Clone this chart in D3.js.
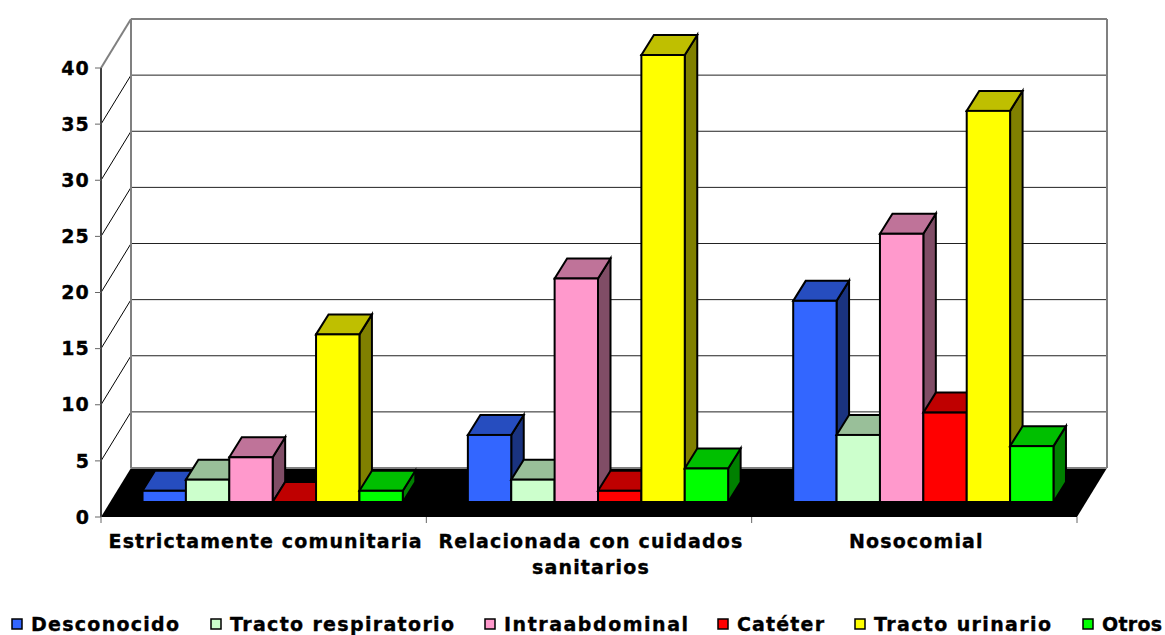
<!DOCTYPE html>
<html>
<head>
<meta charset="utf-8">
<script src="https://cdn.jsdelivr.net/npm/d3@7"></script>
<style>
html, body { margin: 0; padding: 0; background: #fff; }
svg { display: block; }
text { font-family: "DejaVu Sans", sans-serif; font-weight: bold; fill: #000; stroke: #000; stroke-width: 0.35px; }
</style>
</head>
<body>
<svg id="chart" width="1165" height="635"></svg>
<script>
// Infection source by acquisition type
const categories = ["Estrictamente comunitaria", "Relacionada con cuidados sanitarios", "Nosocomial"];
const seriesNames = ["Desconocido", "Tracto respiratorio", "Intraabdominal", "Catéter", "Tracto urinario", "Otros"];
const desconocido = [1, 6, 18];
const respiratorio = [2, 2, 6];
const intraabdominal = [4, 20, 24];
const cateter = [0, 1, 8];
const urinario = [15, 40, 35];
const otros = [1, 3, 5];
const seriesValues = [desconocido, respiratorio, intraabdominal, cateter, urinario, otros];
const yTicks = [0, 5, 10, 15, 20, 25, 30, 35, 40];
const seriesColors = ["#3366ff", "#ccffcc", "#ff99cc", "#ff0000", "#ffff00", "#00ff00"];

const svg = d3.select("#chart");

// Front plane of the 3D box, plus the offset to its back wall
const plot = { left: 101, right: 1077, bottom: 517, top: 68 };
const wall = { dx: 30, dy: -49 };
// Bars stand inside the box: offset of their front face and their own depth
const barFrontDx = 9;
const barDepth = { dx: 12.5, dy: -20 };
const fontSize = 19;
const tracking = 1.15;

const y = d3.scaleLinear().domain([0, 40]).range([plot.bottom, plot.top]);
const yBar = d3.scaleLinear().domain([0, 40]).range([502, 55]);
const x0 = d3.scaleBand().domain(d3.range(categories.length)).range([plot.left, plot.right]);
const x1 = d3.scaleBand().domain(d3.range(seriesNames.length)).range([0, x0.bandwidth()]).paddingOuter(0.75).paddingInner(0);

const poly = (pts) => pts.map(p => p.join(",")).join(" ");

// Floor of the box
const walls = svg.append("g");
walls.append("polygon")
  .attr("points", poly([
    [plot.left, plot.bottom],
    [plot.left + wall.dx, plot.bottom + wall.dy],
    [plot.right + wall.dx, plot.bottom + wall.dy],
    [plot.right, plot.bottom]
  ]))
  .attr("fill", "#000");

// Gridlines run along the side wall and across the back wall
yTicks.filter(t => t > 0).forEach(t => {
  const yy = y(t);
  const isEdge = t === 40;
  const stroke = isEdge ? "#808080" : "#000";
  walls.append("line")
    .attr("x1", plot.left).attr("y1", yy)
    .attr("x2", plot.left + wall.dx).attr("y2", yy + wall.dy)
    .attr("stroke", stroke).attr("stroke-width", isEdge ? 2 : 1);
  walls.append("line")
    .attr("x1", plot.left + wall.dx).attr("y1", yy + wall.dy)
    .attr("x2", plot.right + wall.dx).attr("y2", yy + wall.dy)
    .attr("stroke", isEdge ? "#808080" : "#222").attr("stroke-width", isEdge ? 2 : 1);
});
walls.append("line")
  .attr("x1", plot.left + wall.dx).attr("y1", y(0) + wall.dy)
  .attr("x2", plot.right + wall.dx).attr("y2", y(0) + wall.dy)
  .attr("stroke", "#808080").attr("stroke-width", 2);
[plot.left, plot.right].forEach(xx => {
  walls.append("line")
    .attr("x1", xx + wall.dx).attr("y1", y(0) + wall.dy)
    .attr("x2", xx + wall.dx).attr("y2", y(40) + wall.dy)
    .attr("stroke", "#808080").attr("stroke-width", 2);
});

// Value axis
const axisG = svg.append("g");
axisG.append("line")
  .attr("x1", plot.left).attr("y1", y(0))
  .attr("x2", plot.left).attr("y2", y(40))
  .attr("stroke", "#404040").attr("stroke-width", 2);
yTicks.forEach(t => {
  axisG.append("line")
    .attr("x1", plot.left - 6).attr("x2", plot.left).attr("y1", y(t)).attr("y2", y(t))
    .attr("stroke", "#666").attr("stroke-width", 1);
  axisG.append("text")
    .attr("x", plot.left - 11).attr("y", y(t)).attr("dy", "0.35em")
    .attr("text-anchor", "end").attr("font-size", fontSize).attr("letter-spacing", tracking)
    .text(t);
});

// Category axis
d3.range(categories.length + 1).forEach(i => {
  const xx = i < categories.length ? x0(i) : plot.right;
  axisG.append("line")
    .attr("x1", xx).attr("x2", xx).attr("y1", plot.bottom).attr("y2", plot.bottom + 6)
    .attr("stroke", "#666").attr("stroke-width", 1);
});

// Bars, drawn left to right so each one overlaps its neighbour's side face
const barLayer = svg.append("g");
categories.forEach((c, ci) => {
  seriesNames.forEach((s, si) => {
    const v = seriesValues[si][ci];
    const color = d3.color(seriesColors[si]);
    const shade = k => d3.rgb(color.r * k, color.g * k, color.b * k).formatHex();
    const xl = x0(ci) + x1(si) + barFrontDx;
    const xr = xl + x1.bandwidth();
    const yb = yBar(0);
    const yt = yBar(v);
    const d = barDepth;
    const g = barLayer.append("g")
      .attr("stroke", "#000").attr("stroke-width", 2).attr("stroke-linejoin", "miter");
    g.append("polygon")
      .attr("points", poly([[xr, yb], [xr + d.dx, yb + d.dy], [xr + d.dx, yt + d.dy], [xr, yt]]))
      .attr("fill", shade(0.5));
    g.append("polygon")
      .attr("points", poly([[xl, yt], [xl + d.dx, yt + d.dy], [xr + d.dx, yt + d.dy], [xr, yt]]))
      .attr("fill", shade(0.75));
    g.append("rect")
      .attr("x", xl).attr("y", yt)
      .attr("width", xr - xl).attr("height", yb - yt)
      .attr("fill", seriesColors[si]);
  });
});

// Category labels, wrapped by hand to two lines where needed
const labelLines = [[categories[0]], ["Relacionada con cuidados", "sanitarios"], [categories[2]]];
labelLines.forEach((lines, i) => {
  lines.forEach((ln, j) => {
    svg.append("text")
      .attr("x", x0(i) + x0.bandwidth() / 2 + 2)
      .attr("y", 548 + j * 26)
      .attr("text-anchor", "middle").attr("font-size", fontSize).attr("letter-spacing", tracking)
      .text(ln);
  });
});

// Legend
const legendStarts = [12, 211, 485, 718, 855, 1083];
const legendTextWidths = [148, 224, 184, 87, 177, 60];
seriesNames.forEach((s, i) => {
  svg.append("rect")
    .attr("x", legendStarts[i]).attr("y", 619)
    .attr("width", 10).attr("height", 10)
    .attr("fill", seriesColors[i]).attr("stroke", "#000").attr("stroke-width", 1.5);
  svg.append("text")
    .attr("x", legendStarts[i] + 19).attr("y", 631)
    .attr("font-size", fontSize)
    .attr("textLength", legendTextWidths[i]).attr("lengthAdjust", "spacing")
    .text(s);
});
</script>
</body>
</html>
